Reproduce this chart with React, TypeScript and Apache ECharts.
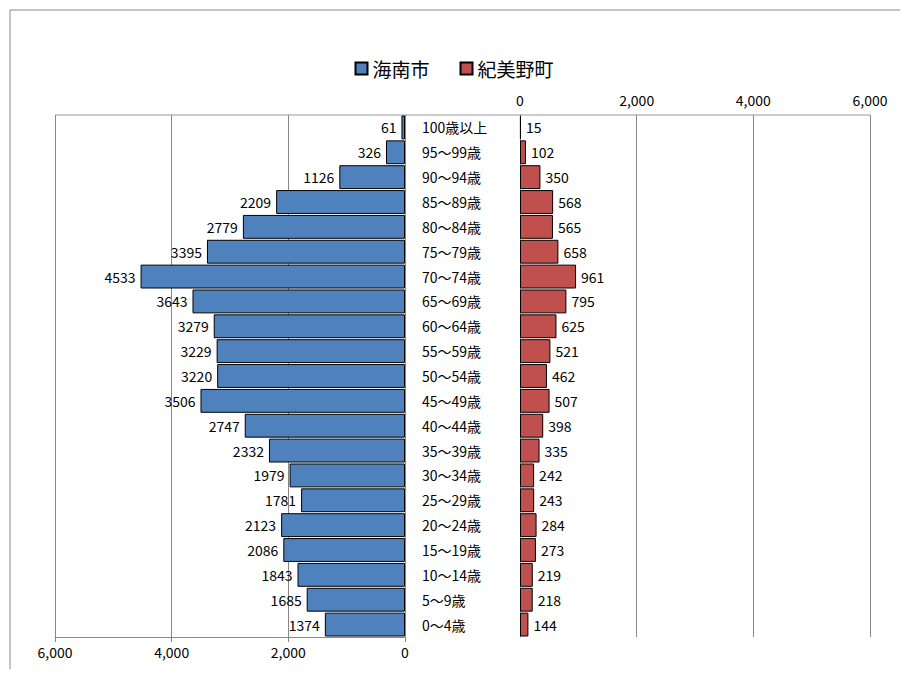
import { useEffect, useRef } from "react";
import * as echarts from "echarts";

const ageGroups = ["0〜4歳", "5〜9歳", "10〜14歳", "15〜19歳", "20〜24歳", "25〜29歳", "30〜34歳", "35〜39歳", "40〜44歳", "45〜49歳", "50〜54歳", "55〜59歳", "60〜64歳", "65〜69歳", "70〜74歳", "75〜79歳", "80〜84歳", "85〜89歳", "90〜94歳", "95〜99歳", "100歳以上"];
const kainan = [1374, 1685, 1843, 2086, 2123, 1781, 1979, 2332, 2747, 3506, 3220, 3229, 3279, 3643, 4533, 3395, 2779, 2209, 1126, 326, 61];
const kimino = [144, 218, 219, 273, 284, 243, 242, 335, 398, 507, 462, 521, 625, 795, 961, 658, 565, 568, 350, 102, 15];

const FONT = "'Noto Sans CJK JP', 'Noto Sans', sans-serif";

export default function App() {
  const ref = useRef<HTMLDivElement | null>(null);
  useEffect(() => {
    if (!ref.current) return;
    const chart = echarts.init(ref.current, undefined, { renderer: "svg" });
    const axisLabel = { color: "#000", fontSize: 14, fontFamily: FONT };
    chart.setOption({
      animation: false,
      textStyle: { fontFamily: FONT },
      legend: {
        top: 46,
        left: "center",
        icon: "rect",
        itemWidth: 12,
        itemHeight: 12,
        itemGap: 30,
        textStyle: { fontSize: 19, color: "#000", fontFamily: FONT },
        data: ["海南市", "紀美野町"]
      },
      graphic: [
        { type: "rect", shape: { x: 2, y: 2, width: 903, height: 690 }, style: { fill: "none", stroke: "#888", lineWidth: 1 } },
        { type: "line", shape: { x1: 47, y1: 107, x2: 862, y2: 107 }, style: { stroke: "#999", lineWidth: 1 } }
      ],
      grid: [
        { left: 47, width: 350, top: 107, height: 522 },
        { left: 512, width: 350, top: 107, height: 522 }
      ],
      xAxis: [
        {
          gridIndex: 0, type: "value", inverse: true, min: 0, max: 6000, interval: 2000, position: "bottom",
          axisLabel: { ...axisLabel, formatter: (v: number) => v.toLocaleString("en-US") },
          axisLine: { show: true, lineStyle: { color: "#888" } }, axisTick: { show: true, lineStyle: { color: "#888" } },
          splitLine: { lineStyle: { color: "#888" } }
        },
        {
          gridIndex: 1, type: "value", min: 0, max: 6000, interval: 2000, position: "top",
          axisLabel: { ...axisLabel, formatter: (v: number) => v.toLocaleString("en-US") },
          axisLine: { show: false }, axisTick: { show: false },
          splitLine: { lineStyle: { color: "#888" } }
        }
      ],
      yAxis: [
        {
          gridIndex: 0, type: "category", data: ageGroups, position: "right",
          axisLabel: { show: false }, axisTick: { show: false },
          axisLine: { lineStyle: { color: "#888" } }
        },
        {
          gridIndex: 1, type: "category", data: ageGroups, position: "left",
          axisLabel: { ...axisLabel, align: "left", margin: 98 }, axisTick: { show: false },
          axisLine: { lineStyle: { color: "#888" } }
        }
      ],
      series: [
        {
          name: "海南市", type: "bar", xAxisIndex: 0, yAxisIndex: 0, data: kainan, barCategoryGap: "4%",
          itemStyle: { color: "#4f81bd", borderColor: "#000", borderWidth: 1 },
          label: { show: true, position: "left", color: "#000", fontSize: 14, fontFamily: FONT }
        },
        {
          name: "紀美野町", type: "bar", xAxisIndex: 1, yAxisIndex: 1, data: kimino, barCategoryGap: "4%",
          itemStyle: { color: "#c0504d", borderColor: "#000", borderWidth: 1 },
          label: { show: true, position: "right", color: "#000", fontSize: 14, fontFamily: FONT }
        }
      ]
    });
    return () => chart.dispose();
  }, []);
  return <div ref={ref} style={{ width: 892, height: 661 }} />;
}
